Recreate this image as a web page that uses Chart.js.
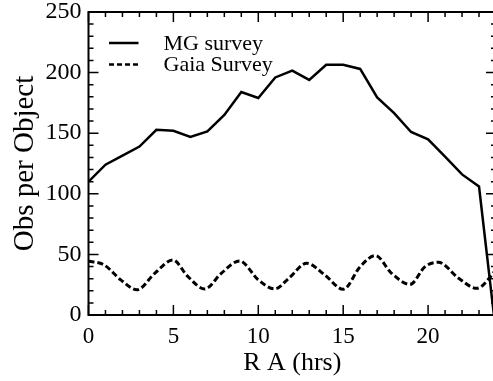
<!DOCTYPE html>
<html>
<head>
<meta charset="utf-8">
<script src="https://cdn.jsdelivr.net/npm/chart.js@4"></script>
<style>
  html, body { margin: 0; padding: 0; background: #fff; overflow: hidden; }
  #wrap { width: 500px; height: 381px; position: relative; }
</style>
</head>
<body>
<div id="wrap"><canvas id="chart"></canvas></div>
<script>
// MG survey, one value per hour of RA
const mgRa = [0, 1, 2, 3, 4, 5, 6, 7, 8, 9, 10, 11, 12, 13, 14, 15, 16, 17, 18, 19, 20, 21, 22, 23, 24];
const mgObs = [110, 124, 131.5, 139, 152.8, 152, 147, 151.4, 165, 184, 179, 196, 201.7, 194, 206.4, 206.4, 203, 179.5, 166.5, 151, 145, 130.7, 116, 106, -15];

// Gaia survey, read at turning points and midpoints
const gaiaRa = [0, 0.9, 1.9, 2.85, 3.9, 4.97, 5.86, 6.85, 7.82, 8.9, 10, 10.97, 11.8, 12.85, 13.92, 15, 16, 16.9, 17.85, 18.94, 19.82, 20.6, 21.8, 22.87, 23.7, 24];
const gaiaObs = [44.5, 41.5, 29, 20.8, 34.4, 45.4, 31.6, 21.5, 34.4, 44.6, 29, 21.5, 30.3, 42.7, 33, 21.2, 39.9, 49, 34.4, 25.3, 39.9, 43.5, 30.3, 22, 32, 38];

const seriesNames = ['MG survey', 'Gaia Survey'];
const xTitle = 'R A (hrs)';
const yTitle = 'Obs per Object';

const font = 'Liberation Serif';

function toPoints(xs, ys) {
    return xs.map((x, i) => ({ x: x, y: ys[i] }));
}

// ticks pointing inwards on all four sides, plus the frame and the legend
const frame = {
    id: 'frame',
    afterDatasetsDraw(chart) {
        const { ctx, chartArea: a, scales: { x, y } } = chart;
        ctx.save();
        ctx.strokeStyle = '#000';
        ctx.lineWidth = 1.5;
        ctx.beginPath();
        x.ticks.forEach(t => {
            const px = x.getPixelForValue(t.value);
            const len = t.value % 5 === 0 ? 10 : 5;
            ctx.moveTo(px, a.bottom);
            ctx.lineTo(px, a.bottom - len);
            ctx.moveTo(px, a.top);
            ctx.lineTo(px, a.top + len);
        });
        y.ticks.forEach(t => {
            const py = y.getPixelForValue(t.value);
            const len = t.value % 50 === 0 ? 10 : 5;
            ctx.moveTo(a.left, py);
            ctx.lineTo(a.left + len, py);
            ctx.moveTo(a.right, py);
            ctx.lineTo(a.right - len, py);
        });
        ctx.stroke();
        ctx.lineWidth = 2;
        ctx.strokeRect(a.left, a.top, a.right - a.left, a.bottom - a.top);

        // legend
        const ds = chart.data.datasets;
        ctx.font = '22px "' + font + '"';
        ctx.fillStyle = '#000';
        ctx.textBaseline = 'alphabetic';
        ds.forEach((d, i) => {
            const ly = a.top + 31 + i * 21.5;
            ctx.lineWidth = 2.5;
            ctx.setLineDash(i === 0 ? [] : [5, 3]);
            ctx.beginPath();
            ctx.moveTo(a.left + 20.5, ly);
            ctx.lineTo(a.left + 50, ly);
            ctx.stroke();
            ctx.setLineDash([]);
            ctx.fillText(d.label, a.left + 75, ly + 6.5);
        });
        ctx.restore();
    }
};

new Chart(document.getElementById('chart'), {
    type: 'line',
    data: {
        datasets: [
            {
                label: seriesNames[0],
                data: toPoints(mgRa, mgObs),
                borderColor: '#000',
                borderWidth: 2.5,
                pointRadius: 0,
                tension: 0
            },
            {
                label: seriesNames[1],
                data: toPoints(gaiaRa, gaiaObs),
                borderColor: '#000',
                borderWidth: 3,
                borderDash: [6, 3],
                pointRadius: 0,
                cubicInterpolationMode: 'monotone'
            }
        ]
    },
    options: {
        responsive: true,
        maintainAspectRatio: false,
        animation: false,
        layout: { padding: { top: 12, right: 4, left: 0, bottom: 0 } },
        plugins: {
            legend: { display: false },
            tooltip: { enabled: false }
        },
        scales: {
            x: {
                type: 'linear',
                min: 0,
                max: 24,
                afterFit: s => {
                    s.height = 66;
                    s.paddingLeft = 0;
                    s.paddingRight = 0;
                },
                grid: { display: false, drawTicks: false },
                border: { display: false },
                ticks: {
                    stepSize: 1,
                    autoSkip: false,
                    maxRotation: 0,
                    padding: 8,
                    color: '#000',
                    font: { family: font, size: 23 },
                    callback: v => (v % 5 === 0 ? v : '')
                },
                title: {
                    display: true,
                    text: xTitle,
                    color: '#000',
                    font: { family: font, size: 26 },
                    padding: { top: 0, bottom: 2 }
                }
            },
            y: {
                min: 0,
                max: 250,
                afterFit: s => {
                    s.width = 88.5;
                    s.paddingTop = 0;
                    s.paddingBottom = 0;
                },
                grid: { display: false, drawTicks: false },
                border: { display: false },
                ticks: {
                    stepSize: 10,
                    autoSkip: false,
                    padding: 7,
                    color: '#000',
                    font: { family: font, size: 24 },
                    callback: v => (v % 50 === 0 ? v : '')
                },
                title: {
                    display: true,
                    text: yTitle,
                    color: '#000',
                    font: { family: font, size: 29 },
                    padding: { top: 8, bottom: 0 }
                }
            }
        }
    },
    plugins: [frame]
});
</script>
</body>
</html>
